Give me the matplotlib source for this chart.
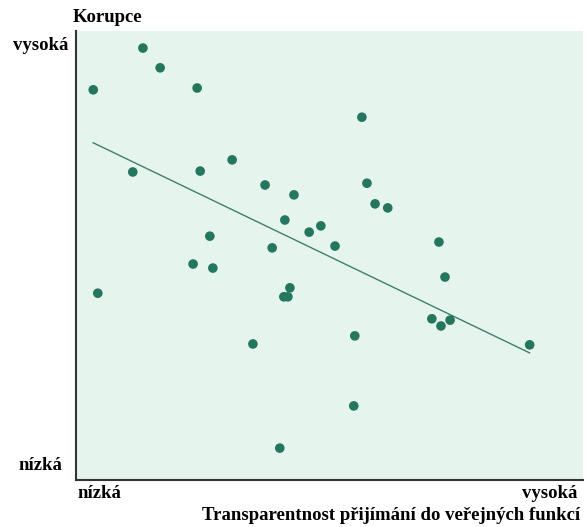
import matplotlib.pyplot as plt

# transparency of hiring (x) vs corruption (y), 0-10 scale
transparency = [0.34, 0.43, 1.12, 1.32, 1.66, 2.31, 2.39, 2.45, 2.64, 2.70,
                3.08, 3.49, 3.73, 3.87, 4.02, 4.10, 4.18, 4.22, 4.12, 4.30,
                4.60, 4.83, 5.11, 5.50, 5.48, 5.64, 5.74, 5.90, 6.15, 7.02,
                7.16, 7.20, 7.28, 7.38, 8.95]
corruption = [8.69, 4.16, 6.86, 9.62, 9.18, 4.81, 8.73, 6.88, 5.43, 4.72,
              7.13, 3.03, 6.57, 5.17, 0.71, 4.08, 4.08, 4.28, 5.79, 6.35,
              5.52, 5.66, 5.21, 3.21, 1.65, 8.08, 6.61, 6.15, 6.06, 3.59,
              5.30, 3.43, 4.52, 3.56, 3.01]
trend_x = [0.34, 8.95]
trend_y = [7.51, 2.83]

fig = plt.figure(figsize=(5.86, 5.27), dpi=100)
ax = fig.add_axes([0.1297, 0.0892, 0.865, 0.852])
ax.set_facecolor('#e6f4ee')

ax.plot(trend_x, trend_y, color='#3f7f6e', linewidth=1)
ax.scatter(transparency, corruption, s=48, color='#24765f', zorder=3, edgecolors='none')

ax.set_xlim(0, 10)
ax.set_ylim(0, 10)
ax.set_xticks([])
ax.set_yticks([])
for side in ['top', 'right']:
    ax.spines[side].set_visible(False)
for side in ['left', 'bottom']:
    ax.spines[side].set_color('#333333')
    ax.spines[side].set_linewidth(1.5)

font = dict(family='Liberation Serif', fontweight='bold', fontsize=13.5)
fig.text(73 / 586, 1 - 17 / 527, 'Korupce', ha='left', va='center', **font)
fig.text(68 / 586, 1 - 46 / 527, 'vysoká', ha='right', va='center', **font)
fig.text(62 / 586, 1 - 466 / 527, 'nízká', ha='right', va='center', **font)
fig.text(77 / 586, 1 - 494 / 527, 'nízká', ha='left', va='center', **font)
fig.text(577 / 586, 1 - 494 / 527, 'vysoká', ha='right', va='center', **font)
fig.text(580 / 586, 1 - 516 / 527, 'Transparentnost přijímání do veřejných funkcí',
         ha='right', va='center', **font)

fig.savefig('out.png', dpi=100)
